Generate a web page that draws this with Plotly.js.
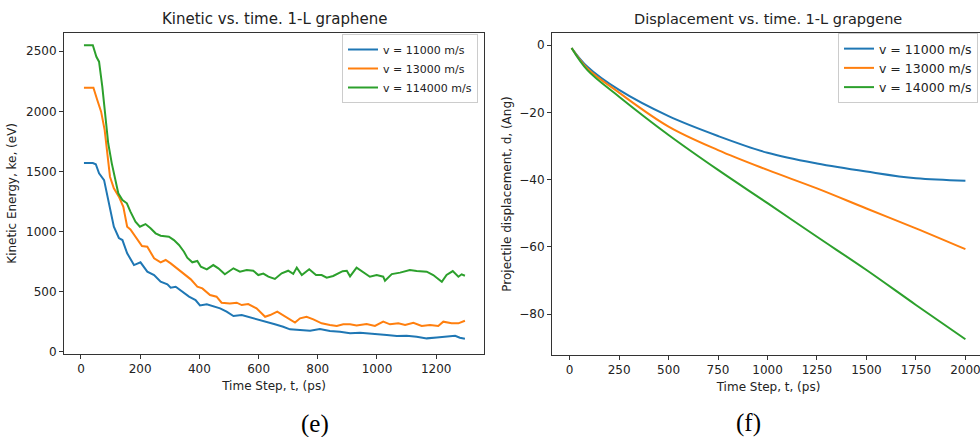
<!DOCTYPE html>
<html>
<head>
<meta charset="utf-8">
<script src="https://cdn.plot.ly/plotly-3.0.1.min.js"></script>
<style>
html,body{margin:0;padding:0;overflow:hidden;background:#fff;width:980px;height:437px;}
#chart{width:986px;height:437px;}
</style>
</head>
<body>
<div id="chart"></div>
<script>
// ---- Kinetic energy data (panel e) ----
const keBlueT = [10,40,50,61,78,89,100,111,128,140,156,179,201,224,247,269,292,303,320,342,365,387,402,425,447,470,492,515,543,565,582,605,627,655,683,706,740,774,807,841,875,909,943,976,1010,1033,1067,1100,1134,1168,1202,1235,1264,1280,1297];
const keBlue  = [1570,1570,1560,1484,1428,1290,1154,1040,946,929,819,721,744,666,638,582,561,533,541,499,458,430,385,394,380,361,333,297,305,291,278,264,250,228,208,186,180,175,189,172,166,153,158,153,144,139,130,133,125,111,119,125,133,116,108];

const keOrangeT = [10,42,55,68,80,89,98,111,128,143,156,167,184,206,224,247,269,286,303,326,348,371,393,410,436,458,475,503,526,543,565,593,622,639,663,689,723,740,762,785,813,841,864,886,909,931,965,993,1021,1044,1072,1095,1123,1151,1179,1207,1224,1252,1275,1297];
const keOrange  = [2196,2196,2094,1997,1844,1622,1456,1359,1290,1206,1040,1018,957,879,874,777,744,763,735,688,644,602,541,527,472,458,408,402,408,388,397,361,291,305,333,291,243,278,291,269,236,222,214,228,228,219,230,214,250,228,236,222,241,214,222,214,250,236,236,258];

const keGreenT = [10,40,52,61,72,81,92,104,115,126,140,155,167,184,199,218,235,252,269,297,314,331,348,359,376,393,405,425,447,464,486,515,537,560,582,599,616,633,655,678,700,717,729,746,771,794,813,830,852,884,898,909,931,954,976,999,1021,1027,1050,1078,1111,1134,1168,1190,1219,1235,1256,1275,1286,1297];
const keGreen  = [2549,2549,2454,2413,2205,2011,1734,1567,1428,1318,1262,1235,1165,1082,1040,1062,1027,985,965,957,929,888,832,782,744,755,707,685,721,694,644,694,666,680,674,638,650,624,605,652,674,647,700,638,686,638,638,616,630,670,674,627,699,658,624,638,624,591,646,658,680,672,666,638,582,638,671,624,644,632];

// ---- Displacement data (panel f) ----
const dispT      = [10,90,250,500,750,1000,1250,1500,1750,2000];
const dispBlue   = [-0.8,-6.4,-13.3,-21.1,-27.0,-32.0,-35.2,-37.6,-39.6,-40.3];
const dispOrange = [-0.8,-6.9,-14.1,-24.2,-31.2,-37.1,-42.6,-48.6,-54.5,-60.7];
const dispGreen  = [-0.8,-7.4,-15.3,-26.7,-37.1,-47.0,-57.0,-66.9,-77.3,-87.5];

const namesE = ['v = 11000 m/s','v = 13000 m/s','v = 114000 m/s'];
const namesF = ['v = 11000 m/s','v = 13000 m/s','v = 14000 m/s'];
const colors = ['#1f77b4','#ff7f0e','#2ca02c'];

const W = 986, H = 437;
const fx = p => p / W;
const fy = p => 1 - p / H;
const FONT = 'DejaVu Sans';

const traces = [
  {x: keBlueT, y: keBlue, name: namesE[0], xaxis:'x', yaxis:'y', legend:'legend', mode:'lines', line:{color:colors[0], width:2}},
  {x: keOrangeT, y: keOrange, name: namesE[1], xaxis:'x', yaxis:'y', legend:'legend', mode:'lines', line:{color:colors[1], width:2}},
  {x: keGreenT, y: keGreen, name: namesE[2], xaxis:'x', yaxis:'y', legend:'legend', mode:'lines', line:{color:colors[2], width:2}},
  {x: dispT, y: dispBlue, name: namesF[0], xaxis:'x2', yaxis:'y2', legend:'legend2', mode:'lines', line:{color:colors[0], width:2, shape:'spline'}},
  {x: dispT, y: dispOrange, name: namesF[1], xaxis:'x2', yaxis:'y2', legend:'legend2', mode:'lines', line:{color:colors[1], width:2, shape:'spline'}},
  {x: dispT, y: dispGreen, name: namesF[2], xaxis:'x2', yaxis:'y2', legend:'legend2', mode:'lines', line:{color:colors[2], width:2, shape:'spline'}}
];

const axCommon = {
  showline:true, mirror:true, linecolor:'#333', linewidth:1,
  ticks:'outside', ticklen:4, tickcolor:'#333', tickwidth:1,
  showgrid:false, zeroline:false,
  tickfont:{family:FONT, size:12, color:'#222'}
};
const axTitleFont = {family:FONT, size:12, color:'#222'};

const legendCommon = {
  bgcolor:'rgba(255,255,255,0.9)', bordercolor:'#cccccc', borderwidth:1,
  xanchor:'right', yanchor:'top', tracegroupgap:0, itemwidth:30
};

const layout = {
  width: W, height: H,
  margin:{l:0, r:0, t:0, b:0},
  paper_bgcolor:'#fff', plot_bgcolor:'#fff',
  font:{family:FONT, size:11, color:'#222'},
  showlegend:true,
  xaxis: Object.assign({}, axCommon, {
    domain:[fx(64), fx(484)], range:[-57.4, 1361.5], anchor:'y',
    tickvals:[0,200,400,600,800,1000,1200],
    title:{text:'Time Step, t, (ps)', font:axTitleFont, standoff:6}
  }),
  yaxis: Object.assign({}, axCommon, {
    domain:[fy(354), fy(32.7)], range:[-19, 2654], anchor:'x',
    tickvals:[0,500,1000,1500,2000,2500],
    title:{text:'Kinetic Energy, ke, (eV)', font:axTitleFont, standoff:6}
  }),
  xaxis2: Object.assign({}, axCommon, {
    domain:[fx(552), fx(985)], range:[-89, 2099], anchor:'y2',
    tickvals:[0,250,500,750,1000,1250,1500,1750,2000],
    title:{text:'Time Step, t, (ps)', font:axTitleFont, standoff:6}
  }),
  yaxis2: Object.assign({}, axCommon, {
    domain:[fy(355), fy(33)], range:[-92.2, 3.66], anchor:'x2',
    tickvals:[-80,-60,-40,-20,0],
    title:{text:'Projectile displacement, d, (Ang)', font:axTitleFont, standoff:5}
  }),
  legend: Object.assign({}, legendCommon, {x: fx(478), y: fy(34), font:{family:FONT, size:11, color:'#222'}}),
  legend2: Object.assign({}, legendCommon, {x: fx(978), y: fy(33), font:{family:FONT, size:12.5, color:'#222'}}),
  annotations:[
    {text:'Kinetic vs. time. 1-L graphene', x:fx(274), y:fy(19), xref:'paper', yref:'paper', showarrow:false, xanchor:'center', yanchor:'middle', font:{family:FONT, size:15, color:'#222'}},
    {text:'Displacement vs. time. 1-L grapgene', x:fx(768), y:fy(19), xref:'paper', yref:'paper', showarrow:false, xanchor:'center', yanchor:'middle', font:{family:FONT, size:14.5, color:'#222'}},
    {text:'(e)', x:fx(315), y:fy(424), xref:'paper', yref:'paper', showarrow:false, xanchor:'center', yanchor:'middle', font:{family:'Liberation Serif', size:25, color:'#000'}},
    {text:'(f)', x:fx(748), y:fy(423), xref:'paper', yref:'paper', showarrow:false, xanchor:'center', yanchor:'middle', font:{family:'Liberation Serif', size:25, color:'#000'}}
  ]
};

Plotly.newPlot('chart', traces, layout, {staticPlot:true, displayModeBar:false});
</script>
</body>
</html>
